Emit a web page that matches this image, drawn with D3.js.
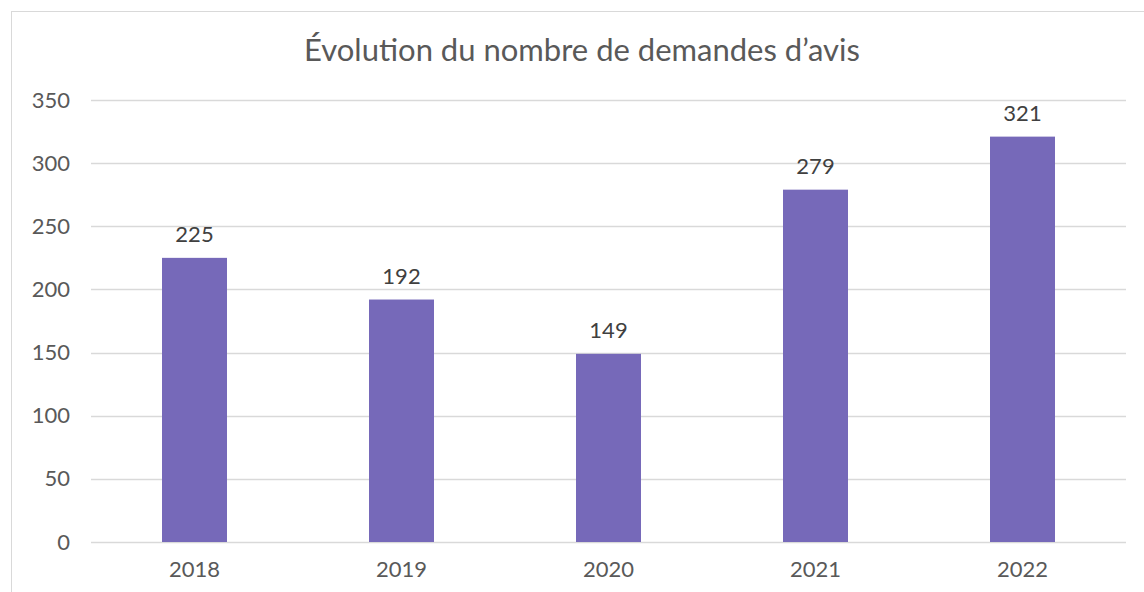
<!DOCTYPE html>
<html>
<head>
<meta charset="utf-8">
<script src="https://cdn.jsdelivr.net/npm/d3@7"></script>
<style>
  body { margin: 0; background: #fff; }
  svg text { font-family: Lato, "Open Sans", sans-serif; }
</style>
</head>
<body>
<svg></svg>
<script>
var years = ["2018", "2019", "2020", "2021", "2022"];
var demandes = [225, 192, 149, 279, 321];
var yTicks = [0, 50, 100, 150, 200, 250, 300, 350];
var title = "Évolution du nombre de demandes d’avis";

var screen = { width: 1144, height: 592 };

var svg = d3.select("svg")
  .attr("width", screen.width)
  .attr("height", screen.height);

// chart frame
svg.append("rect")
  .attr("x", 11.5)
  .attr("y", 11.5)
  .attr("width", screen.width + 20)
  .attr("height", screen.height + 20)
  .attr("fill", "white")
  .attr("stroke", "#d9d9d9");

var plot = { left: 91, right: 1126, top: 100, bottom: 542 };

var xScale = d3.scaleBand()
  .domain(years)
  .range([plot.left, plot.right])
  .paddingInner(0.686)
  .paddingOuter(0.343);

var yScale = d3.scaleLinear()
  .domain([0, 350])
  .range([plot.bottom, plot.top]);

// gridlines
svg.append("g")
  .selectAll("line")
  .data(yTicks)
  .enter()
  .append("line")
  .attr("x1", plot.left)
  .attr("x2", plot.right)
  .attr("y1", function(d) { return Math.round(yScale(d)) + 0.5; })
  .attr("y2", function(d) { return Math.round(yScale(d)) + 0.5; })
  .attr("stroke", "#d9d9d9")
  .attr("stroke-width", 1.5);

// y axis labels
var yAxis = d3.axisLeft(yScale)
  .tickValues(yTicks)
  .tickSize(0)
  .tickPadding(21);

svg.append("g")
  .attr("transform", "translate(" + plot.left + ",0)")
  .call(yAxis)
  .call(function(g) { g.select(".domain").remove(); })
  .selectAll("text")
  .attr("fill", "#595959")
  .style("font-size", "22px");

// bars
svg.append("g")
  .selectAll("rect")
  .data(demandes)
  .enter()
  .append("rect")
  .attr("x", function(d, i) { return xScale(years[i]); })
  .attr("width", xScale.bandwidth())
  .attr("y", function(d) { return yScale(d); })
  .attr("height", function(d) { return plot.bottom - yScale(d); })
  .attr("fill", "#7669b9");

// value labels
svg.append("g")
  .selectAll("text")
  .data(demandes)
  .enter()
  .append("text")
  .attr("x", function(d, i) { return xScale(years[i]) + xScale.bandwidth() / 2; })
  .attr("y", function(d) { return yScale(d) - 16; })
  .attr("text-anchor", "middle")
  .attr("fill", "#404040")
  .style("font-size", "22px")
  .text(function(d) { return d; });

// x axis labels
var xAxis = d3.axisBottom(xScale)
  .tickSize(0)
  .tickPadding(19);

svg.append("g")
  .attr("transform", "translate(0," + plot.bottom + ")")
  .call(xAxis)
  .call(function(g) { g.select(".domain").remove(); })
  .selectAll("text")
  .attr("fill", "#595959")
  .style("font-size", "22px");

// title
svg.append("text")
  .attr("x", 582)
  .attr("y", 61)
  .attr("text-anchor", "middle")
  .attr("fill", "#595959")
  .style("font-size", "31px")
  .text(title);
</script>
</body>
</html>
